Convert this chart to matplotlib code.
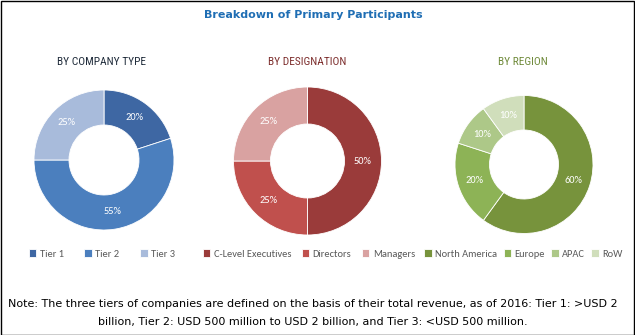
import matplotlib
matplotlib.use("Agg")
import matplotlib.pyplot as plt
from matplotlib.patches import Rectangle

# data
company_labels = ["Tier 1", "Tier 2", "Tier 3"]
company_values = [20, 55, 25]
company_colors = ["#3E67A3", "#4B7FBE", "#A8BBDB"]

designation_labels = ["C-Level Executives", "Directors", "Managers"]
designation_values = [50, 25, 25]
designation_colors = ["#9A3B3A", "#C0504D", "#D9A2A1"]

region_labels = ["North America", "Europe", "APAC", "RoW"]
region_values = [60, 20, 10, 10]
region_colors = ["#77933C", "#8DB356", "#ADC888", "#D0DEBB"]

note_lines = [
    "Note: The three tiers of companies are defined on the basis of their total revenue, as of 2016: Tier 1: >USD 2",
    "billion, Tier 2: USD 500 million to USD 2 billion, and Tier 3: <USD 500 million.",
]

W, H = 635, 335
fig = plt.figure(figsize=(W / 100, H / 100), dpi=100)

NARROW = ["Roboto Condensed", "Sofia Sans Condensed", "DejaVu Sans"]
CALIBRI = ["Carlito", "Open Sans", "DejaVu Sans"]


def px_axes(cx, cy, r):
    # cx, cy in pixels from top-left
    return fig.add_axes([(cx - r) / W, (H - cy - r) / H, 2 * r / W, 2 * r / H])


def donut(cx, cy, r, values, colors, labels, title, title_color, title_x, leg_x, colsp):
    ax = px_axes(cx, cy, r)
    wedges, _, autotexts = ax.pie(
        values, colors=colors, startangle=90, counterclock=False,
        radius=1.0, autopct="%d%%", pctdistance=0.75,
        wedgeprops=dict(width=0.5, edgecolor="white", linewidth=0.6),
        textprops=dict(color="white", fontsize=7.5, family=CALIBRI),
    )
    ax.set_xlim(-1, 1)
    ax.set_ylim(-1, 1)
    ax.set_aspect("equal")
    ax.axis("off")
    fig.text(title_x / W, 1 - 65 / H, title, color=title_color, fontsize=8.2,
             family=NARROW, ha="center", va="baseline")
    fig.legend(wedges, labels, loc="center", bbox_to_anchor=(leg_x / W, 1 - 254 / H),
               ncol=len(labels), frameon=False, handlelength=0.7,
               handleheight=0.7, handletextpad=0.35, columnspacing=colsp,
               labelcolor="#595959", prop=dict(family=CALIBRI, size=7.5))


donut(104, 160, 70, company_values, company_colors, company_labels,
      "BY COMPANY TYPE", "#1F2B3A", 101, 102, 2.0)
donut(307.5, 161, 74, designation_values, designation_colors, designation_labels,
      "BY DESIGNATION", "#7D2E2D", 307, 309, 1.0)
donut(524, 164.5, 69, region_values, region_colors, region_labels,
      "BY REGION", "#6F8A3A", 523, 523.5, 0.6)

fig.text(313 / W, 1 - 18.5 / H, "Breakdown of Primary Participants", color="#1F6EB4",
         fontsize=8, fontweight="bold", family="DejaVu Sans", ha="center", va="baseline")

for i, line in enumerate(note_lines):
    fig.text(313 / W, 1 - (307 + 18 * i) / H, line, fontsize=8, family="DejaVu Sans",
             ha="center", va="baseline", color="black")

fig.patches.append(Rectangle((0.5 / W, 0.5 / H), 1 - 1.5 / W, 1 - 1.5 / H,
                             transform=fig.transFigure, fill=False,
                             edgecolor="black", linewidth=1))

fig.savefig("out.png", dpi=100)
